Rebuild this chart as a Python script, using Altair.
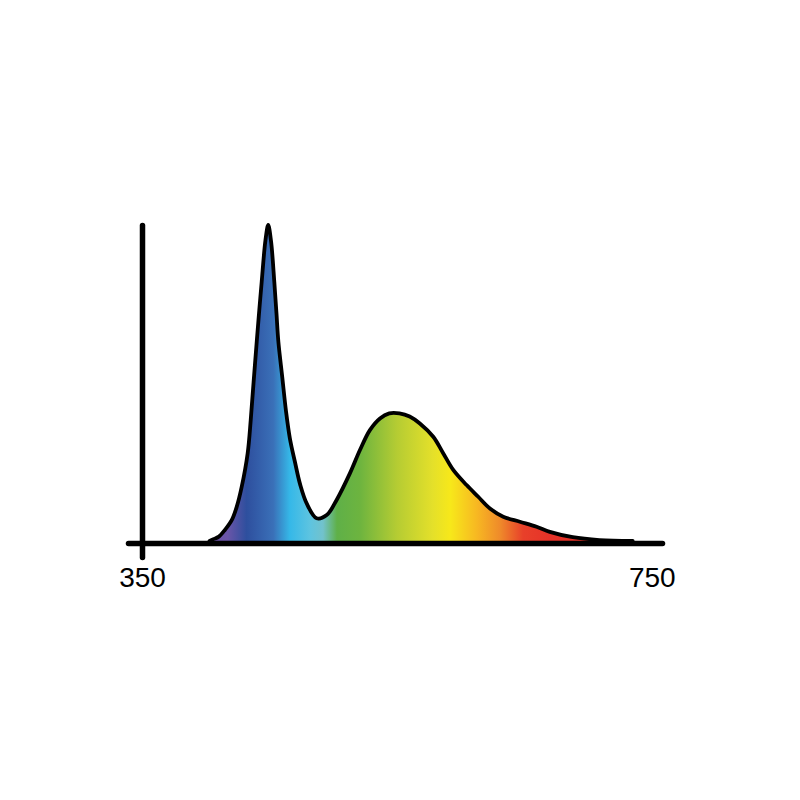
import altair as alt
import pandas as pd

# Spectrum (wavelength nm, relative intensity)
wavelength = [403, 406, 410, 415, 420.4, 424.3, 428.2, 432.9, 435.3, 437.5, 440, 442, 443.9,
              446.8, 449, 451.2, 453.8, 455.5, 457, 460, 463, 466, 470, 474, 479.2, 487,
              494.9, 502.7, 513.1, 521, 528.8, 536.7, 544, 552, 560, 568, 578.5, 586.3,
              594.2, 604.7, 613.8, 623, 633.4, 646.5, 659.6, 670, 688, 709, 735]
intensity = [0, 0.006, 0.013, 0.035, 0.066, 0.108, 0.171, 0.278, 0.383, 0.50, 0.63, 0.73, 0.82,
             0.95, 1.0, 0.95, 0.82, 0.72, 0.63, 0.52, 0.41, 0.325, 0.25, 0.18, 0.119, 0.072,
             0.082, 0.13, 0.214, 0.288, 0.351, 0.388, 0.404, 0.404, 0.394, 0.372, 0.33, 0.278,
             0.225, 0.177, 0.14, 0.103, 0.077, 0.061, 0.045, 0.029, 0.012, 0.003, 0]

tick_values = [350, 750]

# spectral colour stops (wavelength nm -> colour)
stop_nm = [403, 417, 432, 453, 466, 482, 492, 503, 521, 550, 578, 592, 613, 631, 649, 670, 735]
stop_col = ["#6b4fa3", "#6a55a8", "#2e4f9e", "#3a70b8", "#35b8e8", "#5ec4e0", "#72c2cc",
            "#5fb048", "#6db43f", "#b5cc33", "#e4e02a", "#f7e81a", "#f7b722", "#ef8a2a",
            "#e8402a", "#e63228", "#e63228"]

df = pd.DataFrame({"wl": wavelength, "v": intensity})

lo, hi = min(wavelength), max(wavelength)
stops = [alt.GradientStop(offset=(n - lo) / (hi - lo), color=c) for n, c in zip(stop_nm, stop_col)]

x_enc = alt.X("wl:Q",
              scale=alt.Scale(domain=[339, 758], nice=False, zero=False),
              axis=alt.Axis(values=tick_values, ticks=False, grid=False, title=None,
                            domainColor="black", domainWidth=5.5, domainCap="round",
                            offset=-14, labelFontSize=28, labelFont="Liberation Sans",
                            labelColor="black", labelPadding=21, labelFlush=False,
                            zindex=1))
y_enc = alt.Y("v:Q",
              scale=alt.Scale(domain=[-0.0506, 1.0], nice=False, zero=False),
              axis=alt.Axis(labels=False, ticks=False, grid=False, title=None,
                            domainColor="black", domainWidth=5.5, domainCap="round",
                            offset=-14, zindex=1))

base = alt.Chart(df).encode(x=x_enc, y=y_enc)

area = base.mark_area(
    interpolate="catmull-rom",
    color=alt.Gradient(gradient="linear", stops=stops, x1=0, x2=1, y1=0, y2=0),
)
line = base.mark_line(interpolate="catmull-rom", color="black", strokeWidth=3.8,
                      strokeJoin="round", strokeCap="round")

chart = alt.layer(area, line).properties(
    width=534, height=332, autosize="none",
    padding={"left": 120, "top": 217, "right": 40, "bottom": 120},
    background="white",
).configure_view(stroke=None)

chart.save("out.html", embed_options={"renderer": "svg", "actions": False})
